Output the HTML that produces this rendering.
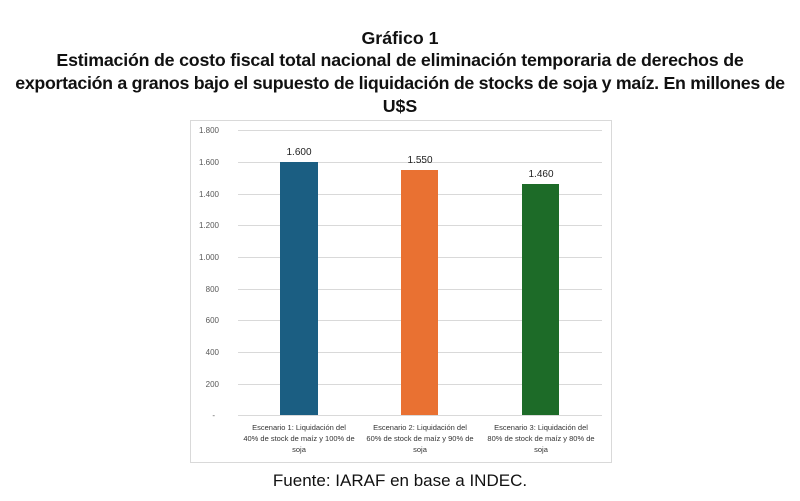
<!DOCTYPE html>
<html><head><meta charset="utf-8"><style>
body{margin:0;background:#fff;width:800px;height:501px;overflow:hidden;font-family:"Liberation Sans",sans-serif;}
.t{position:absolute;left:0;width:800px;text-align:center;font-weight:bold;font-size:17.8px;color:#111;white-space:nowrap;}
</style></head><body>
<div class="t" style="top:28px">Gráfico 1</div>
<div class="t" style="top:50px;letter-spacing:-0.2px">Estimación de costo fiscal total nacional de eliminación temporaria de derechos de</div>
<div class="t" style="top:73px;letter-spacing:-0.3px">exportación a granos bajo el supuesto de liquidación de stocks de soja y maíz. En millones de</div>
<div class="t" style="top:96px">U$S</div>
<svg style="position:absolute;left:0;top:0" width="800" height="501">
<rect x="190.5" y="120.5" width="421" height="342" fill="#fff" stroke="#d9d9d9"/>
<g stroke="#d9d9d9" stroke-width="1">
<line x1="238" x2="602" y1="130.5" y2="130.5"/><line x1="238" x2="602" y1="162.5" y2="162.5"/>
<line x1="238" x2="602" y1="194.5" y2="194.5"/><line x1="238" x2="602" y1="225.5" y2="225.5"/>
<line x1="238" x2="602" y1="257.5" y2="257.5"/><line x1="238" x2="602" y1="289.5" y2="289.5"/>
<line x1="238" x2="602" y1="320.5" y2="320.5"/><line x1="238" x2="602" y1="352.5" y2="352.5"/>
<line x1="238" x2="602" y1="384.5" y2="384.5"/><line x1="238" x2="602" y1="415.5" y2="415.5"/>
</g>
<g font-size="8" fill="#595959" text-anchor="end" font-family="Liberation Sans,sans-serif">
<text x="219" y="133">1.800</text><text x="219" y="165">1.600</text><text x="219" y="197">1.400</text>
<text x="219" y="228">1.200</text><text x="219" y="260">1.000</text><text x="219" y="292">800</text>
<text x="219" y="323">600</text><text x="219" y="355">400</text><text x="219" y="387">200</text>
<text x="215" y="418">-</text>
</g>
<rect x="280" y="162" width="38" height="253" fill="#1b5e82"/>
<rect x="401" y="170" width="37" height="245" fill="#e97132"/>
<rect x="522" y="184" width="37" height="231" fill="#1d6b28"/>
<g font-size="10" fill="#222" text-anchor="middle" font-family="Liberation Sans,sans-serif">
<text x="299" y="155">1.600</text><text x="420" y="163">1.550</text><text x="541" y="177">1.460</text>
</g>
<g font-size="7.5" fill="#333" text-anchor="middle" font-family="Liberation Sans,sans-serif">
<text x="299" y="430">Escenario 1: Liquidación del</text><text x="299" y="441">40% de stock de maíz y 100% de</text><text x="299" y="452">soja</text>
<text x="420" y="430">Escenario 2: Liquidación del</text><text x="420" y="441">60% de stock de maíz y 90% de</text><text x="420" y="452">soja</text>
<text x="541" y="430">Escenario 3: Liquidación del</text><text x="541" y="441">80% de stock de maíz y 80% de</text><text x="541" y="452">soja</text>
</g>
<text x="400" y="486" font-size="17" fill="#111" text-anchor="middle" font-family="Liberation Sans,sans-serif">Fuente: IARAF en base a INDEC.</text>
</svg>
</body></html>
